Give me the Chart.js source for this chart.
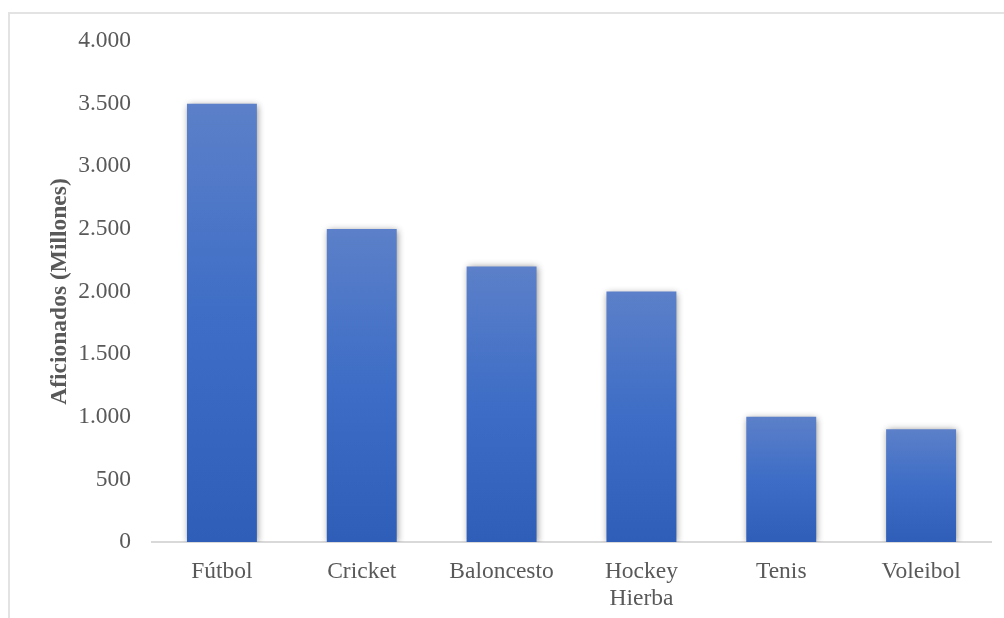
<!DOCTYPE html>
<html>
<head>
<meta charset="utf-8">
<script src="https://cdn.jsdelivr.net/npm/chart.js@4/dist/chart.umd.min.js"></script>
<style>
  html, body { margin: 0; padding: 0; background: #fff; overflow: hidden; }
  #wrap { position: relative; width: 1004px; height: 618px; }
  #frame { position: absolute; left: 8px; top: 12px; width: 1100px; height: 700px; border: 2px solid #e3e3e3; box-sizing: border-box; }
  canvas { position: absolute; left: 0; top: 0; }
</style>
</head>
<body>
<div id="wrap">
  <div id="frame"></div>
  <canvas id="c" width="1004" height="618"></canvas>
</div>
<script>
const categories = ["Fútbol", "Cricket", "Baloncesto", ["Hockey", "Hierba"], "Tenis", "Voleibol"];
const fans = [3500, 2500, 2200, 2000, 1000, 900];
const yAxisTitle = "Aficionados (Millones)";

function fmt(v) {
  return String(v).replace(/\B(?=(\d{3})+(?!\d))/g, ".");
}

const shadowPlugin = {
  id: 'barShadow',
  beforeDatasetsDraw(chart) {
    const ctx = chart.ctx;
    ctx.save();
    ctx.shadowColor = 'rgba(0,0,0,0.45)';
    ctx.shadowBlur = 7;
    ctx.shadowOffsetX = 1;
    ctx.shadowOffsetY = 1;
  },
  afterDatasetsDraw(chart) {
    chart.ctx.restore();
  }
};

const serif = "'Liberation Serif', 'Times New Roman', serif";

new Chart(document.getElementById('c'), {
  type: 'bar',
  data: {
    labels: categories,
    datasets: [{
      data: fans,
      backgroundColor(ctx) {
        const chart = ctx.chart;
        if (!chart.chartArea || ctx.raw === undefined) return '#4472C4';
        const y = chart.scales.y;
        const top = y.getPixelForValue(ctx.raw);
        const bottom = y.getPixelForValue(0);
        const g = chart.ctx.createLinearGradient(0, top, 0, bottom);
        g.addColorStop(0, '#5C80C9');
        g.addColorStop(0.5, '#3D6DC6');
        g.addColorStop(1, '#2E5EB8');
        return g;
      },
      borderWidth: 0,
      categoryPercentage: 1,
      barPercentage: 0.5
    }]
  },
  plugins: [shadowPlugin],
  options: {
    responsive: false,
    animation: false,
    devicePixelRatio: 1,
    layout: { padding: { left: 0, right: 13, top: 41, bottom: 0 } },
    plugins: { legend: { display: false }, tooltip: { enabled: false } },
    scales: {
      x: {
        grid: { display: false, drawTicks: false },
        border: { display: true, color: '#d9d9d9', width: 2 },
        ticks: {
          color: '#595959',
          font: { family: serif, size: 23.5, lineHeight: 1.15 },
          padding: 16,
          maxRotation: 0,
          autoSkip: false
        },
        afterFit(scale) { scale.height = 76; }
      },
      y: {
        min: 0,
        max: 4000,
        grid: { display: false, drawTicks: false },
        border: { display: false },
        ticks: {
          stepSize: 500,
          color: '#595959',
          font: { family: serif, size: 23.5 },
          padding: 21,
          callback: (v) => fmt(v)
        },
        title: {
          display: true,
          text: yAxisTitle,
          color: '#595959',
          font: { family: serif, size: 23.5, weight: 'bold', lineHeight: 1.2 },
          padding: { top: 46, bottom: 0 }
        },
        afterFit(scale) { scale.width = 152; }
      }
    }
  }
});
</script>
</body>
</html>
